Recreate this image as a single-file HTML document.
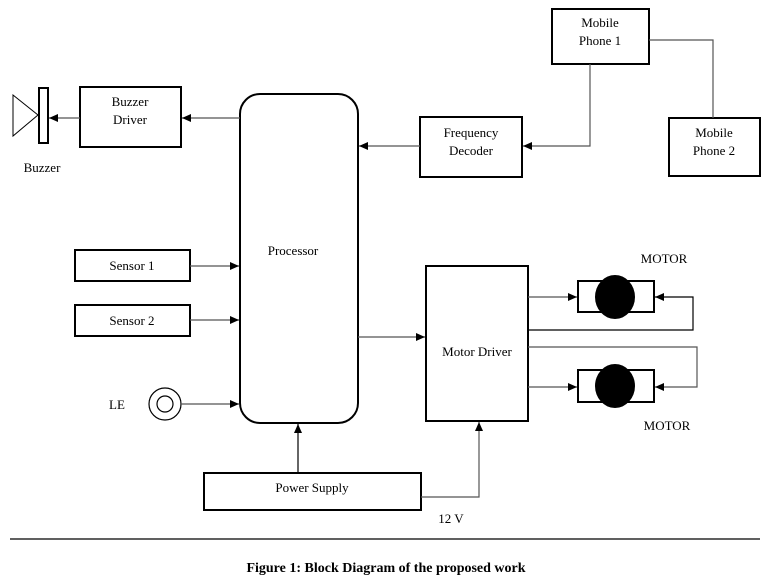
<!DOCTYPE html>
<html><head><style>
html,body{margin:0;padding:0;background:#fff;}
svg text{font-family:"Liberation Serif",serif;font-size:13px;fill:#000;}
</style></head><body>
<svg width="766" height="579" viewBox="0 0 766 579" xmlns="http://www.w3.org/2000/svg">
<defs><marker id="a" markerWidth="10" markerHeight="10" refX="9" refY="5" orient="auto" markerUnits="userSpaceOnUse"><path d="M0,1 L9,5 L0,9 z" fill="#000"/></marker></defs>
<g fill="none" stroke="#000" stroke-width="2">
<rect x="552" y="9" width="97" height="55"/>
<rect x="669" y="118" width="91" height="58"/>
<rect x="420" y="117" width="102" height="60"/>
<rect x="80" y="87" width="101" height="60"/>
<rect x="39" y="88" width="9" height="55"/>
<rect x="240" y="94" width="118" height="329" rx="20"/>
<rect x="75" y="250" width="115" height="31"/>
<rect x="75" y="305" width="115" height="31"/>
<rect x="426" y="266" width="102" height="155"/>
<rect x="204" y="473" width="217" height="37"/>
<rect x="578" y="281" width="76" height="31"/>
<rect x="578" y="370" width="76" height="32"/>
</g>
<path d="M13,95 L38,115 L13,136 z" fill="none" stroke="#000" stroke-width="1"/>
<circle cx="165" cy="404" r="16" fill="none" stroke="#000" stroke-width="1.2"/>
<circle cx="165" cy="404" r="8" fill="none" stroke="#000" stroke-width="1.2"/>
<ellipse cx="615" cy="297" rx="20" ry="22" fill="#000"/>
<ellipse cx="615" cy="386" rx="20" ry="22" fill="#000"/>
<g fill="none" stroke="#555" stroke-width="1.2">
<path d="M649,40 H713 V118"/>
<path d="M590,64 V146 H523" marker-end="url(#a)"/>
<path d="M420,146 H359" marker-end="url(#a)"/>
<path d="M240,118 H182" marker-end="url(#a)"/>
<path d="M80,118 H49" marker-end="url(#a)"/>
<path d="M190,266 H239" marker-end="url(#a)"/>
<path d="M190,320 H239" marker-end="url(#a)"/>
<path d="M181,404 H239" marker-end="url(#a)"/>
<path d="M358,337 H425" marker-end="url(#a)"/>
<path d="M298,473 V424" stroke="#000" marker-end="url(#a)"/>
<path d="M421,497 H479 V422" marker-end="url(#a)"/>
<path d="M528,297 H577" marker-end="url(#a)"/>
<path d="M528,330 H693 V297 H655" stroke="#000" marker-end="url(#a)"/>
<path d="M528,347 H697 V387 H655" marker-end="url(#a)"/>
<path d="M528,387 H577" marker-end="url(#a)"/>
</g>
<line x1="10" y1="539" x2="760" y2="539" stroke="#000" stroke-width="1.2"/>
<g text-anchor="middle">
<text x="600" y="27">Mobile</text><text x="600" y="45">Phone 1</text>
<text x="714" y="137">Mobile</text><text x="714" y="155">Phone 2</text>
<text x="471" y="137">Frequency</text><text x="471" y="155">Decoder</text>
<text x="130" y="106">Buzzer</text><text x="130" y="124">Driver</text>
<text x="42" y="172">Buzzer</text>
<text x="293" y="255">Processor</text>
<text x="132" y="270">Sensor 1</text>
<text x="132" y="325">Sensor 2</text>
<text x="117" y="409">LE</text>
<text x="477" y="356">Motor Driver</text>
<text x="312" y="492">Power Supply</text>
<text x="451" y="523">12 V</text>
<text x="664" y="263">MOTOR</text>
<text x="667" y="430">MOTOR</text>
<text x="386" y="572" style="font-weight:bold;font-size:14px">Figure 1: Block Diagram of the proposed work</text>
</g>
</svg>
</body></html>
